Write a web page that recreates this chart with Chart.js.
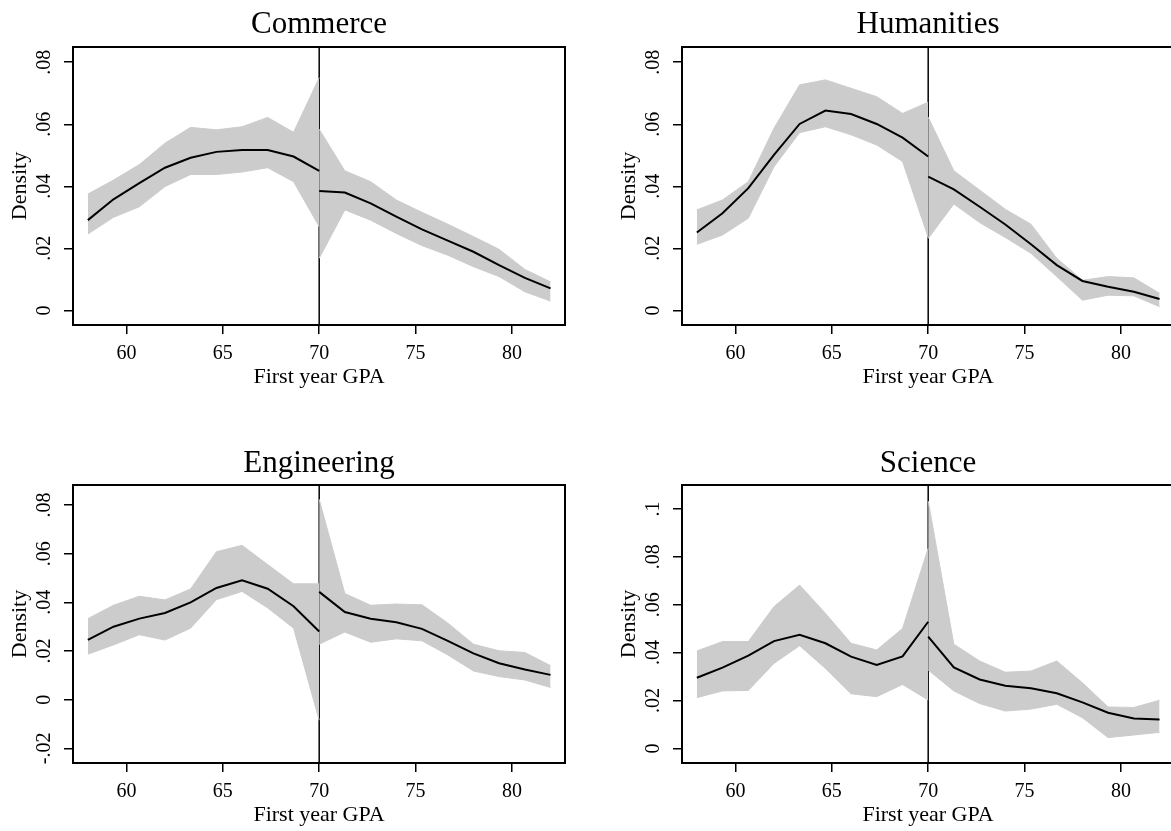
<!DOCTYPE html>
<html>
<head>
<meta charset="utf-8">
<script src="https://cdn.jsdelivr.net/npm/chart.js@4.4.1/dist/chart.umd.min.js"></script>
<style>
html,body{margin:0;padding:0;background:#fff;overflow:hidden;width:1171px;height:831px;position:relative;}
canvas{position:absolute;}
</style>
</head>
<body>
<canvas id="cCommerce"></canvas>
<canvas id="cHumanities"></canvas>
<canvas id="cEngineering"></canvas>
<canvas id="cScience"></canvas>
<script>
// ---------------- data ----------------
const gpaLeft  = [58, 59.33, 60.67, 62, 63.33, 64.67, 66, 67.33, 68.67, 70];
const gpaRight = [70, 71.33, 72.67, 74, 75.33, 76.67, 78, 79.33, 80.67, 82];
const cutoff = 70;
const xTicks = [60, 65, 70, 75, 80];
const xTickLabels = ['60', '65', '70', '75', '80'];

const yTicksStd = [0, 0.02, 0.04, 0.06, 0.08];
const yTickLabelsStd = ['0', '.02', '.04', '.06', '.08'];
const yTicksEng = [-0.02, 0, 0.02, 0.04, 0.06, 0.08];
const yTickLabelsEng = ['-.02', '0', '.02', '.04', '.06', '.08'];
const yTicksSci = [0, 0.02, 0.04, 0.06, 0.08, 0.1];
const yTickLabelsSci = ['0', '.02', '.04', '.06', '.08', '.1'];

// Commerce
const commerceLineL = [0.0291, 0.0358, 0.0410, 0.0460, 0.0492, 0.0511, 0.0517, 0.0517, 0.0496, 0.0450];
const commerceUpL   = [0.0375, 0.0420, 0.0470, 0.0539, 0.0590, 0.0582, 0.0592, 0.0622, 0.0574, 0.0750];
const commerceLoL   = [0.0246, 0.0300, 0.0334, 0.0399, 0.0438, 0.0438, 0.0446, 0.0460, 0.0415, 0.0270];
const commerceLineR = [0.0385, 0.0380, 0.0345, 0.0302, 0.0261, 0.0225, 0.0189, 0.0146, 0.0105, 0.0071];
const commerceUpR   = [0.0584, 0.0450, 0.0415, 0.0356, 0.0316, 0.0278, 0.0238, 0.0197, 0.0132, 0.0092];
const commerceLoR   = [0.0168, 0.0324, 0.0291, 0.0248, 0.0209, 0.0178, 0.0141, 0.0109, 0.0060, 0.0030];

// Humanities
const humLineL = [0.0251, 0.0313, 0.0394, 0.0501, 0.0601, 0.0644, 0.0633, 0.0601, 0.0557, 0.0496];
const humUpL   = [0.0324, 0.0356, 0.0415, 0.0587, 0.0727, 0.0743, 0.0716, 0.0689, 0.0635, 0.0671];
const humLoL   = [0.0213, 0.0243, 0.0297, 0.0463, 0.0573, 0.0592, 0.0566, 0.0533, 0.0480, 0.0235];
const humLineR = [0.0431, 0.0390, 0.0334, 0.0277, 0.0213, 0.0146, 0.0095, 0.0076, 0.0060, 0.0037];
const humUpR   = [0.0623, 0.0450, 0.0388, 0.0326, 0.0278, 0.0168, 0.0097, 0.0109, 0.0105, 0.0055];
const humLoR   = [0.0232, 0.0343, 0.0283, 0.0235, 0.0184, 0.0109, 0.0033, 0.0049, 0.0047, 0.0012];

// Engineering
const engLineL = [0.0246, 0.0300, 0.0333, 0.0356, 0.0400, 0.0459, 0.0491, 0.0456, 0.0384, 0.0280];
const engUpL   = [0.0333, 0.0388, 0.0425, 0.0410, 0.0455, 0.0608, 0.0634, 0.0555, 0.0476, 0.0476];
const engLoL   = [0.0187, 0.0225, 0.0267, 0.0245, 0.0294, 0.0411, 0.0445, 0.0377, 0.0294, -0.0084];
const engLineR = [0.0443, 0.0360, 0.0333, 0.0318, 0.0291, 0.0242, 0.0190, 0.0150, 0.0124, 0.0102];
const engUpR   = [0.0823, 0.0436, 0.0388, 0.0393, 0.0390, 0.0315, 0.0228, 0.0201, 0.0194, 0.0140];
const engLoR   = [0.0228, 0.0278, 0.0236, 0.0250, 0.0242, 0.0184, 0.0118, 0.0095, 0.0081, 0.0050];

// Science
const sciLineL = [0.0295, 0.0337, 0.0387, 0.0448, 0.0474, 0.0439, 0.0383, 0.0348, 0.0384, 0.0529];
const sciUpL   = [0.0407, 0.0446, 0.0446, 0.0592, 0.0682, 0.0564, 0.0439, 0.0411, 0.0501, 0.0836];
const sciLoL   = [0.0212, 0.0240, 0.0242, 0.0355, 0.0429, 0.0334, 0.0228, 0.0216, 0.0267, 0.0202];
const sciLineR = [0.0467, 0.0338, 0.0288, 0.0262, 0.0251, 0.0230, 0.0192, 0.0149, 0.0125, 0.0121];
const sciUpR   = [0.1033, 0.0435, 0.0365, 0.0318, 0.0323, 0.0365, 0.0274, 0.0173, 0.0171, 0.0201];
const sciLoR   = [0.0327, 0.0240, 0.0187, 0.0156, 0.0164, 0.0184, 0.0128, 0.0045, 0.0056, 0.0067];

// ---------------- drawing ----------------
const FONT = '"Liberation Serif", "Times New Roman", serif';
const BAND = '#cccccc';
const TITLE_SIZE = 31, AX_SIZE = 22, TICK_SIZE = 20;

function xy(xs, ys) { return xs.map((x, i) => ({x: x, y: ys[i]})); }

const framePlugin = {
  id: 'frame',
  beforeDatasetsDraw(chart) {
    const a = chart.chartArea, ctx = chart.ctx;
    const px = chart.scales.x.getPixelForValue(cutoff);
    ctx.save();
    ctx.strokeStyle = '#000'; ctx.lineWidth = 1.5;
    ctx.beginPath(); ctx.moveTo(px, a.top); ctx.lineTo(px, a.bottom); ctx.stroke();
    ctx.restore();
  },
  afterDatasetsDraw(chart) {
    const a = chart.chartArea, ctx = chart.ctx;
    ctx.save();
    ctx.strokeStyle = '#000'; ctx.lineWidth = 2;
    ctx.strokeRect(a.left, a.top, a.right - a.left, a.bottom - a.top);
    ctx.restore();
  }
};

function panel(id, p) {
  const cv = document.getElementById(id);
  cv.style.left = p.cl + 'px';
  cv.style.top = p.ct + 'px';
  cv.width = p.W; cv.height = p.H;
  cv.style.width = p.W + 'px'; cv.style.height = p.H + 'px';

  const titleLH = TITLE_SIZE * 1.2, axLH = AX_SIZE * 1.2;
  const mctx = document.createElement('canvas').getContext('2d');
  mctx.font = TICK_SIZE + 'px ' + FONT;
  const widest = Math.max(...p.yLabels.map(s => mctx.measureText(s).width));

  const titleTop = p.titleCY - p.ct - titleLH / 2;
  const titleBottom = (p.t - p.ct) - titleTop - titleLH;
  const xAxisH = (p.ct + p.H) - p.b;
  const xTitlePB = (p.ct + p.H) - (p.b + 52) - axLH / 2;

  const line = (data) => ({data: data, borderColor: '#000', borderWidth: 2, pointRadius: 0, fill: false, tension: 0});
  const up = (data) => ({data: data, borderColor: BAND, borderWidth: 1, backgroundColor: BAND, pointRadius: 0, fill: '+1', tension: 0});
  const lo = (data) => ({data: data, borderColor: BAND, borderWidth: 1, pointRadius: 0, fill: false, tension: 0});

  const gridOpts = {drawOnChartArea: false, drawTicks: true, tickLength: 9, color: '#000', tickColor: '#000', tickWidth: 1.5, lineWidth: 1.5};

  new Chart(cv, {
    type: 'line',
    data: {
      datasets: [
        line(xy(gpaLeft, p.lineL)),
        line(xy(gpaRight, p.lineR)),
        up(xy(gpaLeft, p.upL)),
        lo(xy(gpaLeft, p.loL)),
        up(xy(gpaRight, p.upR)),
        lo(xy(gpaRight, p.loR))
      ]
    },
    options: {
      responsive: false,
      animation: false,
      devicePixelRatio: 1,
      layout: {padding: {left: 0, top: 0, bottom: 0, right: p.W - (p.r - p.cl)}},
      plugins: {
        legend: {display: false},
        tooltip: {enabled: false},
        title: {
          display: true, text: p.title, fullSize: false, color: '#000',
          font: {size: TITLE_SIZE, family: FONT, weight: 'normal', lineHeight: 1.2},
          padding: {top: titleTop, bottom: titleBottom}
        }
      },
      scales: {
        x: {
          type: 'linear', min: 57.23, max: 82.75,
          afterBuildTicks: s => { s.ticks = xTicks.map(v => ({value: v})); },
          afterFit: s => { s.height = xAxisH; },
          grid: gridOpts,
          border: {display: false},
          ticks: {autoSkip: false, minRotation: 0, maxRotation: 0, padding: 8, color: '#000',
                  font: {size: TICK_SIZE, family: FONT, lineHeight: 1.2},
                  callback: (v, i) => xTickLabels[i]},
          title: {display: true, text: 'First year GPA', color: '#000',
                  font: {size: AX_SIZE, family: FONT, lineHeight: 1.2},
                  padding: {top: 0, bottom: xTitlePB}}
        },
        y: {
          type: 'linear', min: p.yMin, max: p.yMax,
          afterBuildTicks: s => { s.ticks = p.yTicks.map(v => ({value: v})); },
          afterFit: s => { s.width = p.l - p.cl; },
          grid: gridOpts,
          border: {display: false},
          ticks: {autoSkip: false, minRotation: 90, maxRotation: 90, crossAlign: 'center',
                  padding: 19 - widest / 2, color: '#000',
                  font: {size: TICK_SIZE, family: FONT, lineHeight: 1.2},
                  callback: (v, i) => p.yLabels[i]},
          title: {display: true, text: 'Density', color: '#000',
                  font: {size: AX_SIZE, family: FONT, lineHeight: 1.2},
                  padding: {top: 20 - axLH / 2, bottom: 0}}
        }
      }
    },
    plugins: [framePlugin]
  });
}

panel('cCommerce', {
  cl: 0, ct: 0, W: 600, H: 415, l: 73, r: 565, t: 47, b: 325, titleCY: 25,
  title: 'Commerce', yMin: -0.0047, yMax: 0.0849, yTicks: yTicksStd, yLabels: yTickLabelsStd,
  lineL: commerceLineL, upL: commerceUpL, loL: commerceLoL,
  lineR: commerceLineR, upR: commerceUpR, loR: commerceLoR
});
panel('cHumanities', {
  cl: 609, ct: 0, W: 600, H: 415, l: 682, r: 1174, t: 47, b: 325, titleCY: 25,
  title: 'Humanities', yMin: -0.0047, yMax: 0.0849, yTicks: yTicksStd, yLabels: yTickLabelsStd,
  lineL: humLineL, upL: humUpL, loL: humLoL,
  lineR: humLineR, upR: humUpR, loR: humLoR
});
panel('cEngineering', {
  cl: 0, ct: 415, W: 600, H: 416, l: 73, r: 565, t: 485, b: 763, titleCY: 464,
  title: 'Engineering', yMin: -0.026, yMax: 0.0882, yTicks: yTicksEng, yLabels: yTickLabelsEng,
  lineL: engLineL, upL: engUpL, loL: engLoL,
  lineR: engLineR, upR: engUpR, loR: engLoR
});
panel('cScience', {
  cl: 609, ct: 415, W: 600, H: 416, l: 682, r: 1174, t: 485, b: 763, titleCY: 464,
  title: 'Science', yMin: -0.0061, yMax: 0.110, yTicks: yTicksSci, yLabels: yTickLabelsSci,
  lineL: sciLineL, upL: sciUpL, loL: sciLoL,
  lineR: sciLineR, upR: sciUpR, loR: sciLoR
});
</script>
</body>
</html>
